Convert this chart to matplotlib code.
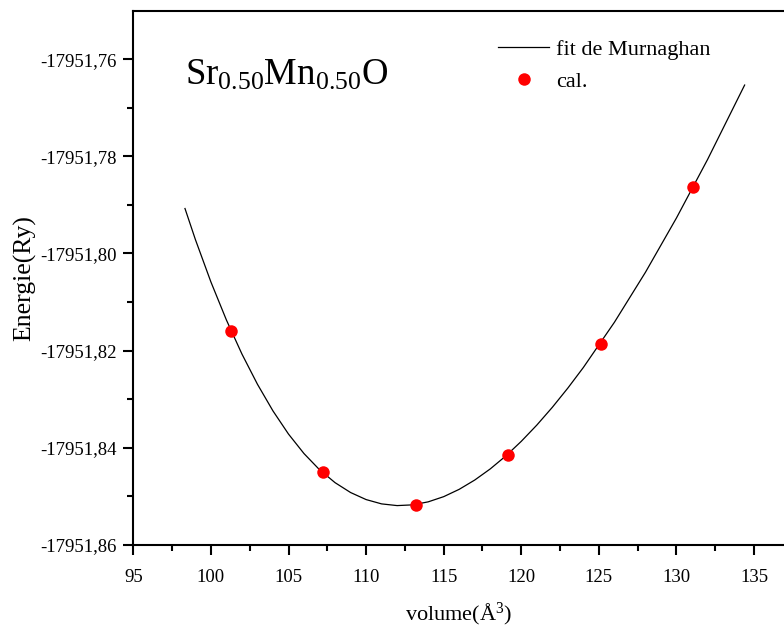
import matplotlib
matplotlib.use("Agg")
import matplotlib.pyplot as plt
from matplotlib.ticker import MultipleLocator, FuncFormatter

# calculated points (volume in A^3, energy in Ry)
vol_cal = [101.30, 107.24, 113.22, 119.16, 125.15, 131.08]
e_cal = [-17951.8160, -17951.8449, -17951.8518, -17951.8415, -17951.8186, -17951.7863]

# Murnaghan fit curve
vol_fit = [98.33, 99, 100, 101, 102, 103, 104, 105, 106, 107, 108, 109, 110,
           111, 112, 113, 114, 115, 116, 117, 118, 119, 120, 121, 122, 123, 124,
           126, 128, 130, 132, 134.39]
e_fit = [-17951.79075, -17951.79713, -17951.80586, -17951.81370, -17951.82070,
         -17951.82692, -17951.83241, -17951.83717, -17951.84119, -17951.84451,
         -17951.84717, -17951.84920, -17951.85065, -17951.85154, -17951.85189,
         -17951.85174, -17951.85112, -17951.85005, -17951.84854, -17951.84663,
         -17951.84434, -17951.84168, -17951.83866, -17951.83532, -17951.83166,
         -17951.82770, -17951.82346, -17951.81416, -17951.80387, -17951.79268,
         -17951.78067, -17951.76534]

plt.rcParams['font.family'] = ['Liberation Serif', 'DejaVu Serif']
plt.rcParams['mathtext.fontset'] = 'custom'
plt.rcParams['mathtext.rm'] = 'Liberation Serif'
plt.rcParams['mathtext.it'] = 'Liberation Serif:italic'

fig = plt.figure(figsize=(7.84, 6.32), dpi=100)
ax = fig.add_axes([133.3 / 784, 87 / 632, 1 - 133.3 / 784, 534 / 632])

ax.plot(vol_fit, e_fit, color='black', linewidth=0.9, label='fit de Murnaghan')
ax.plot(vol_cal, e_cal, 'o', color='red', markersize=9, markeredgewidth=0, label='cal.')

ax.set_xlim(95, 95 + 650.7 / 15.52)
ax.set_ylim(-17951.86, -17951.7501)

ax.xaxis.set_major_locator(MultipleLocator(5))
ax.xaxis.set_minor_locator(MultipleLocator(2.5))
ax.yaxis.set_major_locator(MultipleLocator(0.02))
ax.yaxis.set_minor_locator(MultipleLocator(0.01))
ax.yaxis.set_major_formatter(FuncFormatter(lambda v, p: f"{v:.2f}".replace('.', ',')))

ax.tick_params(which='both', direction='out', width=1.5, labelsize=13.5, top=False, right=False)
ax.tick_params(which='major', length=7)
ax.tick_params(which='minor', length=4)
ax.tick_params(axis='x', pad=10)
ax.tick_params(axis='y', pad=5)

for side in ['left', 'bottom', 'top']:
    ax.spines[side].set_linewidth(1.5)
ax.spines['right'].set_visible(False)

ax.set_xlabel('volume(Å$^3$)', fontsize=16, labelpad=11)
ax.set_ylabel('Energie(Ry)', fontsize=18.5, labelpad=3)

fig.text(185 / 784, 1 - 85 / 632, r'Sr$_{0.50}$Mn$_{0.50}$O', fontsize=26.5, va='baseline')

ax.legend(loc='upper left', bbox_to_anchor=(498 / 784, 1 - 39 / 632),
          bbox_transform=fig.transFigure, frameon=False, fontsize=16,
          borderpad=0, borderaxespad=0, handlelength=2.3, handletextpad=0.3,
          labelspacing=0.52)

fig.savefig('out.png', dpi=100)
